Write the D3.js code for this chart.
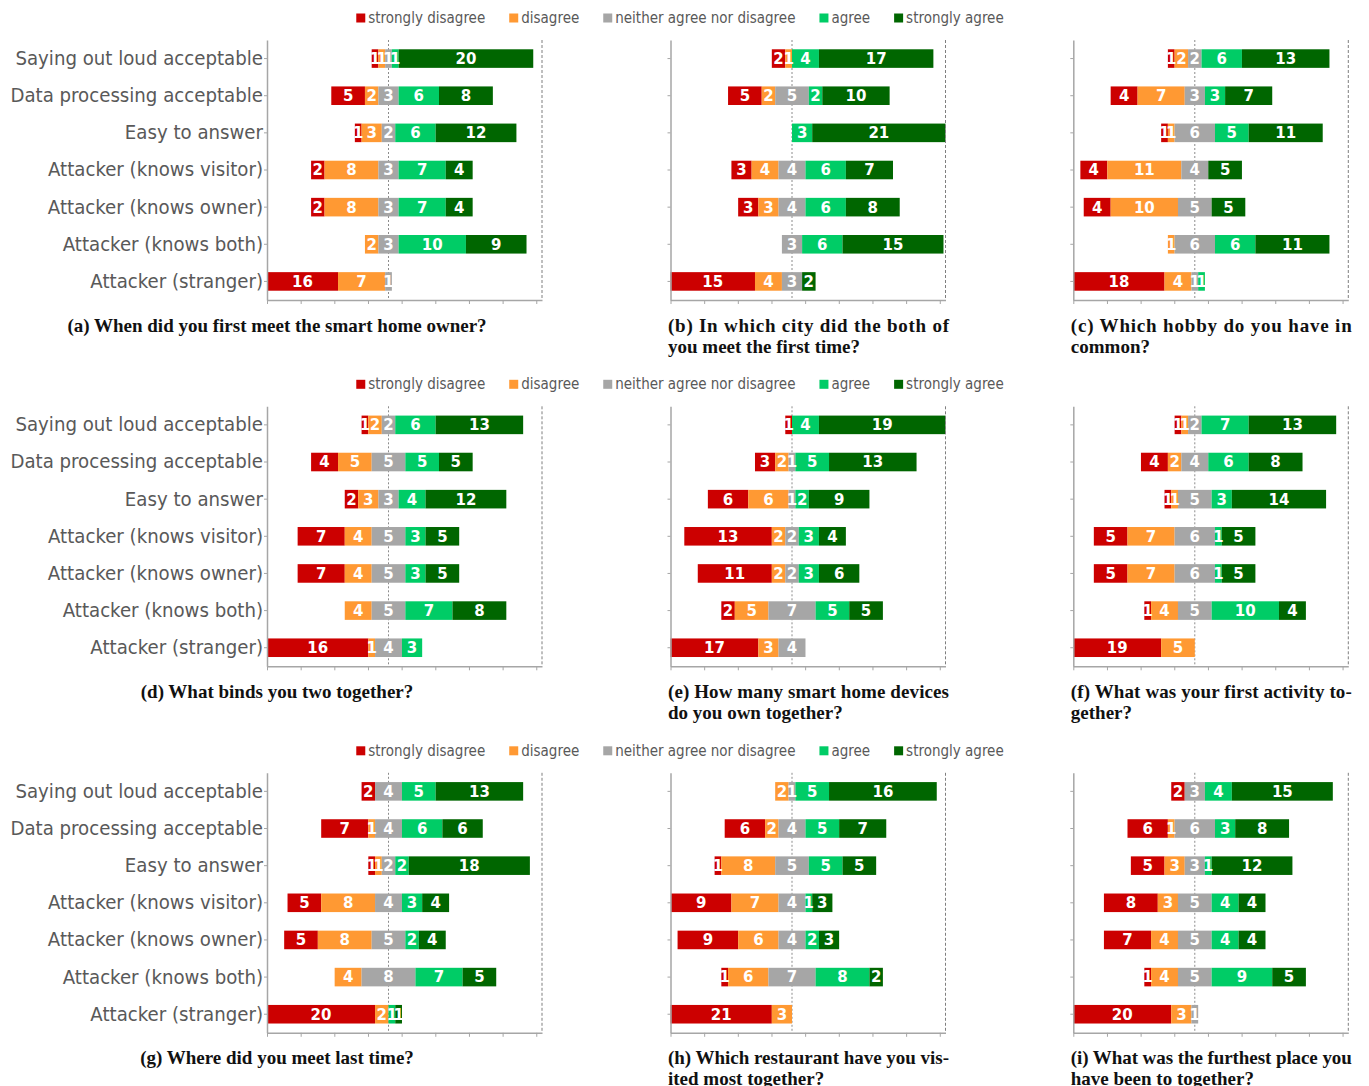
<!DOCTYPE html>
<html><head><meta charset="utf-8">
<script src="https://cdn.jsdelivr.net/npm/d3@7"></script>
<style>body{margin:0;background:#fff;} svg{display:block;}</style>
</head><body><svg id="c" width="1369" height="1086"></svg>
<script>
// ---------- data ----------
const categories = ["Saying out loud acceptable","Data processing acceptable","Easy to answer",
  "Attacker (knows visitor)","Attacker (knows owner)","Attacker (knows both)","Attacker (stranger)"];
const levels = ["strongly disagree","disagree","neither agree nor disagree","agree","strongly agree"];
const levelColors = ["#cc0000","#ff9933","#a6a6a6","#00cc66","#006600"];
const axisTicks = [0,5,10,15,20,25,30,35,40];
const axisMax = 40.85;      // axis extent (participants)
const neutralCenter = 18.05; // axis value where the neutral bar is centered

// rows: [strongly disagree, disagree, neither, agree, strongly agree]
const panelA = [[1,1,1,1,20],[5,2,3,6,8],[1,3,2,6,12],[2,8,3,7,4],[2,8,3,7,4],[0,2,3,10,9],[16,7,1,0,0]];
const panelB = [[2,1,0,4,17],[5,2,5,2,10],[0,0,0,3,21],[3,4,4,6,7],[3,3,4,6,8],[0,0,3,6,15],[15,4,3,0,2]];
const panelC = [[1,2,2,6,13],[4,7,3,3,7],[1,1,6,5,11],[4,11,4,0,5],[4,10,5,0,5],[0,1,6,6,11],[18,4,1,1,0]];
const panelD = [[1,2,2,6,13],[4,5,5,5,5],[2,3,3,4,12],[7,4,5,3,5],[7,4,5,3,5],[0,4,5,7,8],[16,1,4,3,0]];
const panelE = [[1,0,0,4,19],[3,2,1,5,13],[6,6,1,2,9],[13,2,2,3,4],[11,2,2,3,6],[2,5,7,5,5],[17,3,4,0,0]];
const panelF = [[1,1,2,7,13],[4,2,4,6,8],[1,1,5,3,14],[5,7,6,1,5],[5,7,6,1,5],[1,4,5,10,4],[19,5,0,0,0]];
const panelG = [[2,0,4,5,13],[7,1,4,6,6],[1,1,2,2,18],[5,8,4,3,4],[5,8,5,2,4],[0,4,8,7,5],[20,2,0,1,1]];
const panelH = [[0,2,1,5,16],[6,2,4,5,7],[1,8,5,5,5],[9,7,4,1,3],[9,6,4,2,3],[1,6,7,8,2],[21,3,0,0,0]];
const panelI = [[2,0,3,4,15],[6,1,6,3,8],[5,3,3,1,12],[8,3,5,4,4],[7,4,5,4,4],[1,4,5,9,5],[20,3,1,0,0]];

const captionA = ["(a) When did you first meet the smart home owner?"];
const captionB = ["(b) In which city did the both of","you meet the first time?"];
const captionC = ["(c) Which hobby do you have in","common?"];
const captionD = ["(d) What binds you two together?"];
const captionE = ["(e) How many smart home devices","do you own together?"];
const captionF = ["(f) What was your first activity to-","gether?"];
const captionG = ["(g) Where did you meet last time?"];
const captionH = ["(h) Which restaurant have you vis-","ited most together?"];
const captionI = ["(i) What was the furthest place you","have been to together?"];

const panels = [
  {data: panelA, cap: captionA}, {data: panelB, cap: captionB}, {data: panelC, cap: captionC},
  {data: panelD, cap: captionD}, {data: panelE, cap: captionE}, {data: panelF, cap: captionF},
  {data: panelG, cap: captionG}, {data: panelH, cap: captionH}, {data: panelI, cap: captionI}
];

// ---------- layout ----------
const colLeft = [267, 670.5, 1073.3];
const rowTop = [40, 406.3, 772.8];
const plotW = 275, plotH = 260;
const sansFont = "'DejaVu Sans Condensed','DejaVu Sans',sans-serif";
const serifFont = "'Liberation Serif','DejaVu Serif',serif";

const svg = d3.select("#c");
const x = d3.scaleLinear().domain([0, axisMax]).range([0, plotW]);
const y = d3.scaleBand().domain(categories).range([0, plotH]).paddingInner(0.5).paddingOuter(0.25);

const defs = svg.append("defs");
defs.append("clipPath").attr("id","plotclip").append("rect")
  .attr("x",0).attr("y",-1).attr("width",plotW).attr("height",plotH+2);

// legends
rowTop.forEach(top => {
  const lg = svg.append("g").attr("transform", `translate(0,${top-17})`);
  let cx = 0;
  const items = [];
  levels.forEach((lv,i) => {
    const g = lg.append("g");
    g.append("rect").attr("x",0).attr("y",-9.5).attr("width",9).attr("height",9).attr("fill",levelColors[i]);
    const t = g.append("text").attr("x",12).attr("y",0).text(lv)
      .attr("font-family",sansFont).attr("font-size",15).attr("fill","#595959");
    const w = t.node().getComputedTextLength();
    items.push({g, pos: cx});
    cx += 12 + w + 24;
  });
  const total = cx - 24;
  const start = 680 - total/2;
  items.forEach(it => it.g.attr("transform", `translate(${start+it.pos},0)`));
});

panels.forEach((p, idx) => {
  const col = idx % 3, row = Math.floor(idx/3);
  const g = svg.append("g").attr("transform", `translate(${colLeft[col]},${rowTop[row]})`);

  // center dashed line
  g.append("line").attr("x1", x(neutralCenter)).attr("x2", x(neutralCenter))
    .attr("y1", 0).attr("y2", plotH).attr("stroke","#8c8c8c").attr("stroke-width",1)
    .attr("stroke-dasharray","2,2");

  // bars
  const bars = g.append("g").attr("clip-path","url(#plotclip)");
  const labels = g.append("g");
  p.data.forEach((vals, r) => {
    let start = neutralCenter - vals[0] - vals[1] - vals[2]/2;
    vals.forEach((v, k) => {
      if (v > 0) {
        bars.append("rect")
          .attr("x", x(start)).attr("width", x(start+v) - x(start))
          .attr("y", y(categories[r])).attr("height", y.bandwidth())
          .attr("fill", levelColors[k]);
        // keep label inside the visible part of a clipped bar
        const vis0 = Math.max(0, x(start)), vis1 = Math.min(plotW, x(start+v));
        const cxp = (vis0 + vis1)/2;
        labels.append("text").attr("x", cxp).attr("y", y(categories[r]) + y.bandwidth()/2)
          .attr("dy","0.36em").attr("text-anchor","middle")
          .attr("font-family","'DejaVu Sans',sans-serif").attr("font-weight","bold")
          .attr("font-size",15).attr("fill","#fff").text(v);
      }
      start += v;
    });
  });

  // right dashed border
  g.append("line").attr("x1", plotW).attr("x2", plotW).attr("y1", 0).attr("y2", plotH)
    .attr("stroke","#7f7f7f").attr("stroke-width",1).attr("stroke-dasharray","3,2");

  // bottom axis
  const xa = g.append("g").attr("transform", `translate(0,${plotH})`)
    .call(d3.axisBottom(x).tickValues(axisTicks).tickFormat("").tickSize(4).tickSizeOuter(0));
  xa.select(".domain").attr("stroke","#a6a6a6").attr("stroke-width",1.5);
  xa.selectAll(".tick line").attr("stroke","#a6a6a6");

  // left axis
  const ya = g.append("g")
    .call(d3.axisLeft(y).tickSize(3).tickSizeOuter(0).tickPadding(1)
      .tickFormat(col === 0 ? (d => d) : ""));
  ya.select(".domain").attr("stroke","#a6a6a6").attr("stroke-width",1.5);
  ya.selectAll(".tick line").attr("stroke","#a6a6a6");
  ya.selectAll(".tick text").attr("font-family",sansFont).attr("font-size",20.2)
    .attr("fill","#595959");

  // caption
  const capG = g.append("g").attr("font-family",serifFont).attr("font-weight","bold")
    .attr("font-size",19).attr("fill","#111");
  p.cap.forEach((line, li) => {
    const t = capG.append("text").attr("y", 291.5 + li*21).text(line);
    if (col === 0) {
      t.attr("x", 277 - colLeft[0]).attr("text-anchor","middle");
    } else {
      t.attr("x", -2.5);
      if (li === 0 && p.cap.length > 1) t.attr("textLength", 281).attr("lengthAdjust","spacing");
    }
  });
});
</script></body></html>
